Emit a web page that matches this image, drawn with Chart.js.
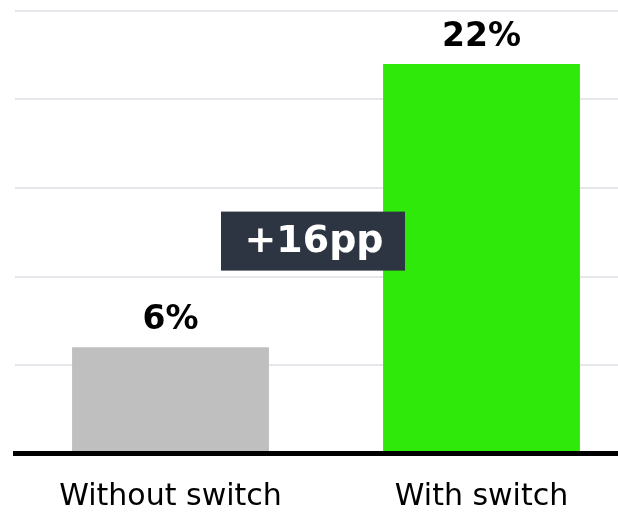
<!DOCTYPE html>
<html>
<head>
<meta charset="utf-8">
<script src="https://cdn.jsdelivr.net/npm/chart.js@4.4.1/dist/chart.umd.min.js"></script>
<style>
  html, body { margin: 0; padding: 0; background: #fff; overflow: hidden; }
  #wrap { width: 637px; height: 542px; position: relative; }
</style>
</head>
<body>
<div id="wrap"><canvas id="MyChart"></canvas></div>
<script>
const categories = ['Without switch', 'With switch']
const values = [6, 22]
const barColors = ['#bfbfbf', '#2fe90b']
const yTicks = [0, 5, 10, 15, 20, 25]

// labels above each bar
const valueLabels = {
  id: 'valueLabels',
  afterDatasetsDraw(chart) {
    const ctx = chart.ctx
    const meta = chart.getDatasetMeta(0)
    ctx.save()
    ctx.font = 'bold 33px "DejaVu Sans"'
    ctx.fillStyle = '#000'
    ctx.textAlign = 'center'
    ctx.textBaseline = 'middle'
    meta.data.forEach((bar, i) => {
      ctx.fillText(values[i] + '%', bar.x, bar.y - 27)
    })
    ctx.restore()
  }
}

// difference badge between the bars
const gapBadge = {
  id: 'gapBadge',
  afterDraw(chart) {
    const ctx = chart.ctx
    const meta = chart.getDatasetMeta(0)
    const y = chart.scales.y
    const diff = values[1] - values[0]
    const cx = (meta.data[0].x + meta.data[1].x) / 2 - 13
    const cy = y.getPixelForValue(12)
    const w = 184, h = 59
    ctx.save()
    ctx.fillStyle = '#2e3542'
    ctx.fillRect(cx - w / 2, cy - h / 2, w, h)
    ctx.font = 'bold 38px "DejaVu Sans"'
    ctx.fillStyle = '#fff'
    ctx.textAlign = 'center'
    ctx.textBaseline = 'middle'
    ctx.fillText('+' + diff + 'pp', cx + 1, cy + 1)
    ctx.restore()
  }
}

new Chart(document.getElementById('MyChart'), {
  type: 'bar',
  data: {
    labels: categories,
    datasets: [{
      data: values,
      backgroundColor: barColors,
      borderWidth: 0,
      categoryPercentage: 1,
      barPercentage: 0.633
    }]
  },
  options: {
    responsive: true,
    maintainAspectRatio: false,
    animation: false,
    layout: { padding: { top: 11, left: 15, right: 0, bottom: 0.5 } },
    plugins: {
      legend: { display: false },
      tooltip: { enabled: false }
    },
    scales: {
      x: {
        grid: { display: false, drawTicks: false },
        border: { display: true, color: '#000', width: 5, z: 1 },
        ticks: {
          color: '#000',
          padding: 29,
          font: { family: '"DejaVu Sans"', size: 30, lineHeight: 1.0 }
        }
      },
      y: {
        min: yTicks[0],
        max: yTicks[yTicks.length - 1],
        afterBuildTicks: (axis) => { axis.ticks = yTicks.map(v => ({ value: v })) },
        grid: { color: '#e6e6eb', lineWidth: 2, drawTicks: false },
        border: { display: false },
        ticks: { display: false }
      }
    }
  },
  plugins: [valueLabels, gapBadge]
})
</script>
</body>
</html>
